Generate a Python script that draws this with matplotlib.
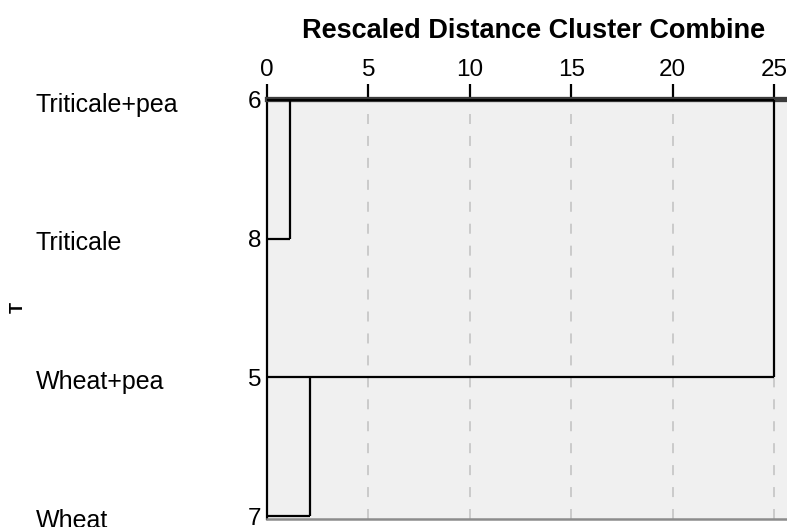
import matplotlib.pyplot as plt
import matplotlib.transforms as mtransforms

plt.rcParams['font.family'] = ['Liberation Sans', 'DejaVu Sans']
plt.rcParams['lines.scale_dashes'] = False

# ----------------------------
# Data
# ----------------------------
case_names = ["Triticale+pea", "Triticale", "Wheat+pea", "Wheat"]
case_ids = ["6", "8", "5", "7"]
# merges: (row a, row b, rescaled distance)
merge_rows_a = [0, 2, 0]
merge_rows_b = [1, 3, 2]
merge_dist = [1.13, 2.12, 25.0]
x_ticks = [0, 5, 10, 15, 20, 25]

fig = plt.figure(figsize=(7.87, 5.27), dpi=100)
ax = fig.add_axes([267 / 787, 1 - 519 / 527, 1 - 267 / 787, (519 - 99) / 527])
ax.set_facecolor("#f0f0f0")
ax.set_xlim(0, 25.64)
ax.set_ylim(3.02, -0.005)

# grid
for t in x_ticks[1:]:
    ax.axvline(t, color="#c8c8c8", lw=1.3, ls=(0, (7.2, 8.6)), zorder=1)

# ----------------------------
# Dendrogram lines
# ----------------------------
node_x = {r: 0.0 for r in range(len(case_names))}
for a, b, d in zip(merge_rows_a, merge_rows_b, merge_dist):
    ax.plot([node_x[a], d], [a, a], color="black", lw=1.6, zorder=3,
            solid_capstyle="butt")
    ax.plot([node_x[b], d], [b, b], color="black", lw=1.6, zorder=3,
            solid_capstyle="butt")
    ax.plot([d, d], [a, b], color="black", lw=1.6, zorder=3,
            solid_capstyle="butt")
    node_x[a] = d

# ----------------------------
# Axes styling
# ----------------------------
ax.spines["right"].set_visible(False)
ax.spines["left"].set_color("black")
ax.spines["left"].set_linewidth(1.6)
ax.spines["top"].set_color("#3c3c3c")
ax.spines["top"].set_linewidth(3.8)
ax.spines["bottom"].set_color("#8c8c8c")
ax.spines["bottom"].set_linewidth(1.8)

ax.xaxis.tick_top()
ax.set_xticks(x_ticks)
ax.set_xticklabels([str(t) for t in x_ticks])
ax.tick_params(axis="x", direction="out", length=11, width=1.6, pad=2,
               labelsize=17.5, color="black")
ax.set_yticks(range(len(case_ids)))
ax.set_yticklabels(case_ids)
ax.tick_params(axis="y", length=0, pad=4, labelsize=17.5)

# case names on the left
trans = mtransforms.blended_transform_factory(fig.transFigure, ax.transData)
for i, name in enumerate(case_names):
    ax.text(36 / 787, i + 0.035, name, transform=trans, ha="left", va="center",
            fontsize=18, clip_on=False)

fig.text(534 / 787, 1 - 31 / 527, "Rescaled Distance Cluster Combine",
         ha="center", va="center", fontsize=19.5, fontweight="bold")
fig.text(18 / 787, 1 - 307 / 527, "T", rotation=90, ha="center", va="center",
         fontsize=13, fontweight="bold")

fig.savefig("out.png", dpi=100)
